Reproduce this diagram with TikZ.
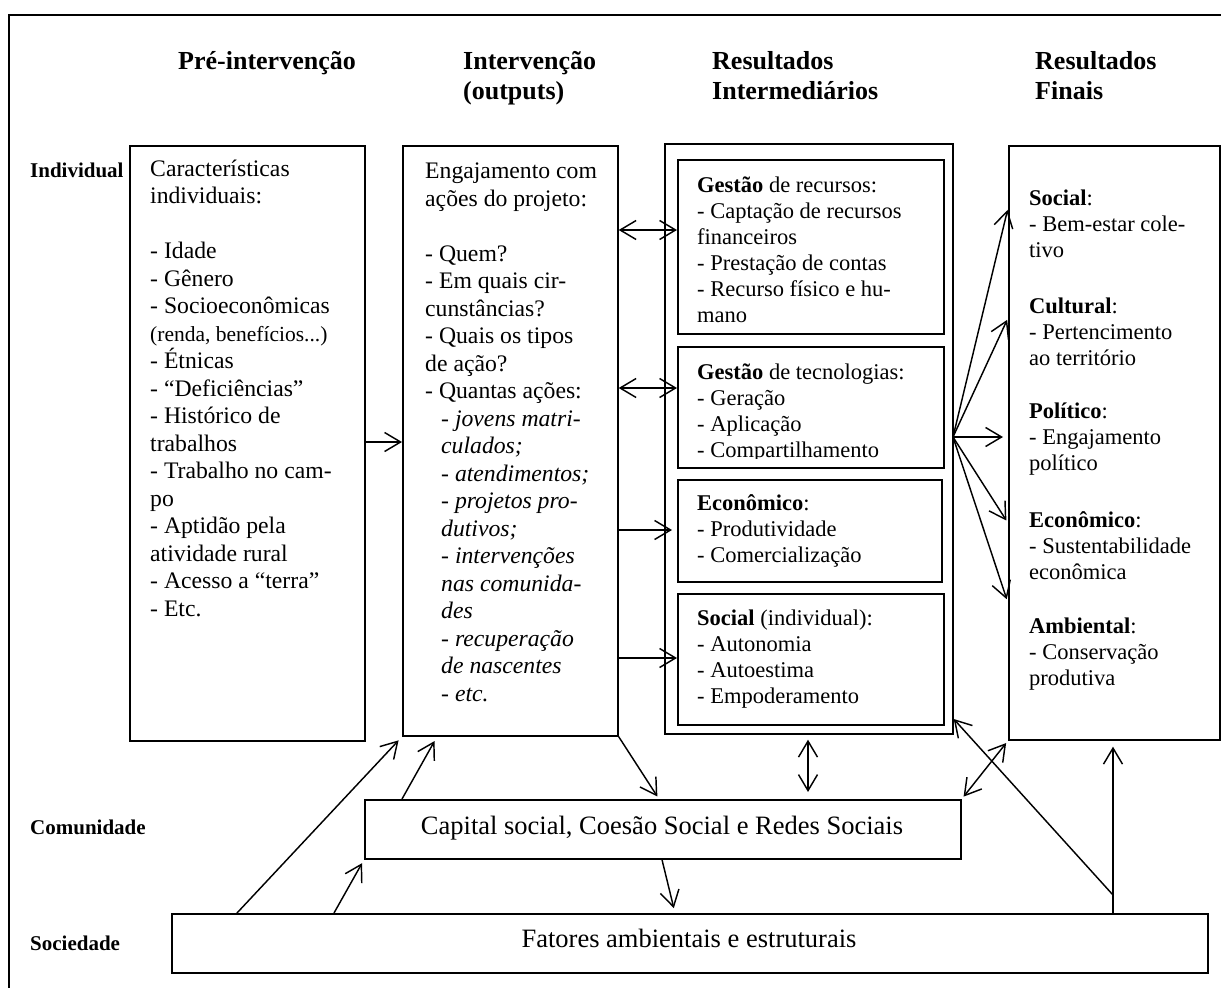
\documentclass[tikz,border=0pt]{standalone}
\usepackage{fontspec}
\setmainfont{Liberation Serif}
\usetikzlibrary{arrows.meta,calc}

\begin{document}
\begin{tikzpicture}[x=1pt,y=-1pt,
  frame/.style={line width=1.5pt},
  boxnode/.style={draw, line width=1.7pt, inner sep=0pt, anchor=north west},
  % multi-line texts are placed by the baseline of their last line
  body/.style={anchor=base west, align=left, inner sep=0pt, font=\fontsize{23.7}{27.5}\selectfont},
  res/.style={anchor=base west, align=left, inner sep=0pt, font=\fontsize{22.5}{26}\selectfont},
  head/.style={anchor=base west, align=left, inner sep=0pt, font=\fontsize{26}{30}\selectfont\bfseries},
  rowlab/.style={anchor=base west, inner sep=0pt, font=\fontsize{21}{24}\selectfont\bfseries},
  big/.style={anchor=base, inner sep=0pt, font=\fontsize{26.5}{30}\selectfont},
  tip/.tip={Straight Barb[length=16pt,width=19pt]},
  arr/.style={line width=1.45pt, -tip},
  darr/.style={line width=1.45pt, tip-tip},
]
\useasboundingbox (0,0) rectangle (1221,988);
\clip (0,0) rectangle (1221,988);

% outer frame
\draw[frame] (9,15) rectangle (1240,1010);

% column headings
\node[head] (h-pre) at (178,69) {Pré-intervenção};
\node[head] (h-int) at (463,99) {Intervenção\\(outputs)};
\node[head] (h-res) at (712,99) {Resultados\\Intermediários};
\node[head] (h-fin) at (1035,99) {Resultados\\Finais};

% row labels
\node[rowlab] (l-ind) at (30,177) {Individual};
\node[rowlab] (l-com) at (30,834) {Comunidade};
\node[rowlab] (l-soc) at (30,950) {Sociedade};

% boxes
\node[boxnode, minimum width=235pt, minimum height=595pt] (box1) at (129,145) {};
\node[boxnode, minimum width=215pt, minimum height=590pt] (box2) at (402,145) {};
\node[boxnode, minimum width=288pt, minimum height=590pt] (box3) at (664,143) {};
\node[boxnode, minimum width=266pt, minimum height=174pt] (r1) at (677,159) {};
\node[boxnode, minimum width=266pt, minimum height=121pt] (r2) at (677,346) {};
\node[boxnode, minimum width=264pt, minimum height=102pt] (r3) at (677,479) {};
\node[boxnode, minimum width=266pt, minimum height=131pt] (r4) at (677,593) {};
\node[boxnode, minimum width=211pt, minimum height=594pt] (box4) at (1008,145) {};
\node[boxnode, minimum width=596pt, minimum height=59pt] (com) at (364,799) {};
\node[boxnode, minimum width=1036pt, minimum height=59pt] (soc) at (171,913) {};

% pre-intervention text
\node[body] (t-pre) at (150,616) {Características\\
individuais:\\[27.5pt]
- Idade\\
- Gênero\\
- Socioeconômicas\\
{\fontsize{21.5}{27.5}\selectfont(renda, benefícios...)}\\
- Étnicas\\
- “Deficiências”\\
- Histórico de\\
trabalhos\\
- Trabalho no cam-\\
po\\
- Aptidão pela\\
atividade rural\\
- Acesso a “terra”\\
- Etc.};

% intervention text
\node[body] (t-int) at (425,701) {Engajamento com\\
ações do projeto:\\[27.5pt]
- Quem?\\
- Em quais cir-\\
cunstâncias?\\
- Quais os tipos\\
de ação?\\
- Quantas ações:\\
\hspace*{16pt}\textit{- jovens matri-}\\
\hspace*{16pt}\textit{culados;}\\
\hspace*{16pt}\textit{- atendimentos;}\\
\hspace*{16pt}\textit{- projetos pro-}\\
\hspace*{16pt}\textit{dutivos;}\\
\hspace*{16pt}\textit{- intervenções}\\
\hspace*{16pt}\textit{nas comunida-}\\
\hspace*{16pt}\textit{des}\\
\hspace*{16pt}\textit{- recuperação}\\
\hspace*{16pt}\textit{de nascentes}\\
\hspace*{16pt}\textit{- etc.}};

% intermediate results text
\node[res] (t-r1) at (697,322) {\textbf{Gestão} de recursos:\\
- Captação de recursos\\
financeiros\\
- Prestação de contas\\
- Recurso físico e hu-\\
mano};
\begin{scope}
  % the last line of this box is cut off at its lower margin
  \clip (677,346) rectangle (943,458);
  \node[res] (t-r2) at (697,457) {\textbf{Gestão} de tecnologias:\\
  - Geração\\
  - Aplicação\\
  - Compartilhamento};
\end{scope}
\node[res] (t-r3) at (697,562) {\textbf{Econômico}:\\
- Produtividade\\
- Comercialização};
\node[res] (t-r4) at (697,703) {\textbf{Social} (individual):\\
- Autonomia\\
- Autoestima\\
- Empoderamento};

% final results text
\node[res] (t-f1) at (1029,257) {\textbf{Social}:\\- Bem-estar cole-\\tivo};
\node[res] (t-f2) at (1029,365) {\textbf{Cultural}:\\- Pertencimento\\ao território};
\node[res] (t-f3) at (1029,470) {\textbf{Político}:\\- Engajamento\\político};
\node[res] (t-f4) at (1029,579) {\textbf{Econômico}:\\- Sustentabilidade\\econômica};
\node[res] (t-f5) at (1029,685) {\textbf{Ambiental}:\\- Conservação\\produtiva};

% community and society texts
\node[big] (t-com) at (662,834) {Capital social, Coesão Social e Redes Sociais};
\node[big] (t-soc) at (689,947) {Fatores ambientais e estruturais};

% connectors between columns
\draw[arr] (box1.east |- 0,442) -- (box2.west |- 0,442);
\draw[darr] (box2.east |- 0,230) -- (r1.west |- 0,230);
\draw[darr] (box2.east |- 0,388) -- (r2.west |- 0,388);
\draw[arr, shorten >=5pt] (box2.east |- 0,530) -- (r3.west |- 0,530);
\draw[arr] (box2.east |- 0,658) -- (r4.west |- 0,658);

% fan towards final results
\coordinate (fan) at (953,437);
\foreach \yy/\sh in {208/2pt,318/2pt,437/5pt,523/3pt,603/4pt}
  \draw[arr, shorten >=\sh] (fan) -- (box4.west |- 0,\yy);

% lower connectors
\draw[arr, shorten >=3pt] (box2.south east) -- (com.north -| 659,0);
\draw[darr, shorten <=5pt, shorten >=7pt] (box3.south -| 808,0) -- (com.north -| 808,0);
\draw[darr, shorten <=3pt, shorten >=3pt] (com.north east) -- (box4.south west);
\draw[arr, shorten >=5pt] (com.south -| 662,0) -- (soc.north -| 675,0);
\draw[arr, shorten >=5pt] (soc.north -| 237,0) -- (box2.south west);
\draw[arr, shorten >=5pt] (com.north -| 402,0) -- (box2.south -| 437,0);
\draw[arr, shorten >=4pt] (soc.north -| 334,0) -- (com.south west);
\draw[arr, shorten >=6pt] (soc.north -| 1113,0) -- (box4.south -| 1113,0);
\coordinate (split) at (1113,895);
\draw[arr] (split) -- (box3.east |- 0,719);
\end{tikzpicture}
\end{document}
